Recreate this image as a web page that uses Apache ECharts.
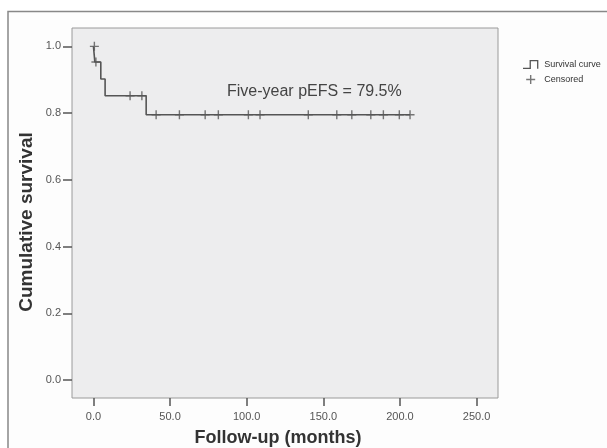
<!DOCTYPE html>
<html>
<head>
<meta charset="utf-8">
<script src="https://cdn.jsdelivr.net/npm/echarts@6/dist/echarts.min.js"></script>
<style>
  html, body { margin: 0; padding: 0; background: #fff; }
  #km { width: 607px; height: 448px; }
</style>
</head>
<body>
<div id="km"></div>
<script>
// Kaplan-Meier step points (time in months, cumulative survival)
var stepTimes = [0, 0.9, 4.8, 7.6, 34.4, 206.6];
var stepSurv = [1.0, 0.953, 0.902, 0.852, 0.795, 0.795];

// censored observations
var censorTimes = [0.6, 1.6, 23.9, 31.6, 40.9, 56.1, 72.9, 81.5, 101.1, 108.7, 140.2, 158.8, 168.6, 181.0, 189.2, 199.6, 206.6];
var censorSurv = [1.0, 0.953, 0.852, 0.852, 0.795, 0.795, 0.795, 0.795, 0.795, 0.795, 0.795, 0.795, 0.795, 0.795, 0.795, 0.795, 0.795];

var xTicks = [0, 50, 100, 150, 200, 250];
var yTicks = [0, 0.2, 0.4, 0.6, 0.8, 1.0];

var fontFam = '"Liberation Sans", Arial, sans-serif';
var crossPath = 'path://M3.8,0 L5.2,0 L5.2,3.8 L9,3.8 L9,5.2 L5.2,5.2 L5.2,9 L3.8,9 L3.8,5.2 L0,5.2 L0,3.8 L3.8,3.8 Z';
var stepIcon = 'path://M0,7 L6,7 L6,0 L14,0 L14,8 L12.8,8 L12.8,1.2 L7.2,1.2 L7.2,8.2 L0,8.2 Z';

var chart = echarts.init(document.getElementById('km'));
chart.setOption({
  animation: false,
  backgroundColor: '#fff',
  textStyle: { fontFamily: fontFam },
  grid: {
    left: 72, top: 28, right: 109, bottom: 50,
    show: true,
    backgroundColor: '#ededee',
    borderColor: '#9a9a9a',
    borderWidth: 1
  },
  legend: {
    orient: 'vertical',
    left: 523, top: 60,
    padding: 0,
    itemWidth: 17, itemHeight: 9, itemGap: 6,
    textStyle: { fontSize: 9, color: '#333' },
    data: [
      { name: 'Survival curve', icon: stepIcon },
      { name: 'Censored', icon: crossPath }
    ]
  },
  xAxis: {
    type: 'value',
    min: -14, max: 264,
    axisLine: { show: false, onZero: false },
    splitLine: { show: false },
    axisTick: { show: true, length: 8, customValues: xTicks, lineStyle: { color: '#555', width: 1.5 } },
    axisLabel: {
      customValues: xTicks, margin: 13, fontSize: 11, color: '#555',
      formatter: function (v) { return v.toFixed(1); }
    }
  },
  yAxis: {
    type: 'value',
    min: -0.054, max: 1.055,
    axisLine: { show: false, onZero: false },
    splitLine: { show: false },
    axisTick: { show: true, length: 9, customValues: yTicks, lineStyle: { color: '#555', width: 1.5 } },
    axisLabel: {
      customValues: yTicks, margin: 11, fontSize: 11, color: '#555',
      formatter: function (v) { return v.toFixed(1); }
    }
  },
  graphic: [
    { type: 'rect', silent: true, z: -10,
      shape: { x: 8, y: 11.5, width: 700, height: 500 },
      style: { fill: '#fdfdfd', stroke: '#888', lineWidth: 1.5 } },
    { type: 'text', x: 227, y: 92,
      style: { text: 'Five-year pEFS = 79.5%', fill: '#444', font: '16px ' + fontFam, textVerticalAlign: 'middle' } },
    { type: 'text', x: 278, y: 438,
      style: { text: 'Follow-up (months)', fill: '#333', font: 'bold 18px ' + fontFam, textAlign: 'center', textVerticalAlign: 'middle' } },
    { type: 'text', x: 27, y: 222, rotation: Math.PI / 2,
      style: { text: 'Cumulative survival', fill: '#333', font: 'bold 19px ' + fontFam, textAlign: 'center', textVerticalAlign: 'middle' } }
  ],
  series: [
    {
      name: 'Survival curve',
      type: 'line',
      step: 'end',
      showSymbol: false,
      color: '#555',
      lineStyle: { color: '#555', width: 1.6 },
      data: stepTimes.map(function (t, i) { return [t, stepSurv[i]]; })
    },
    {
      name: 'Censored',
      type: 'scatter',
      symbol: crossPath,
      symbolSize: 9,
      color: '#555',
      itemStyle: { color: '#555' },
      z: 3,
      data: censorTimes.map(function (t, i) { return [t, censorSurv[i]]; })
    }
  ]
});
</script>
</body>
</html>
